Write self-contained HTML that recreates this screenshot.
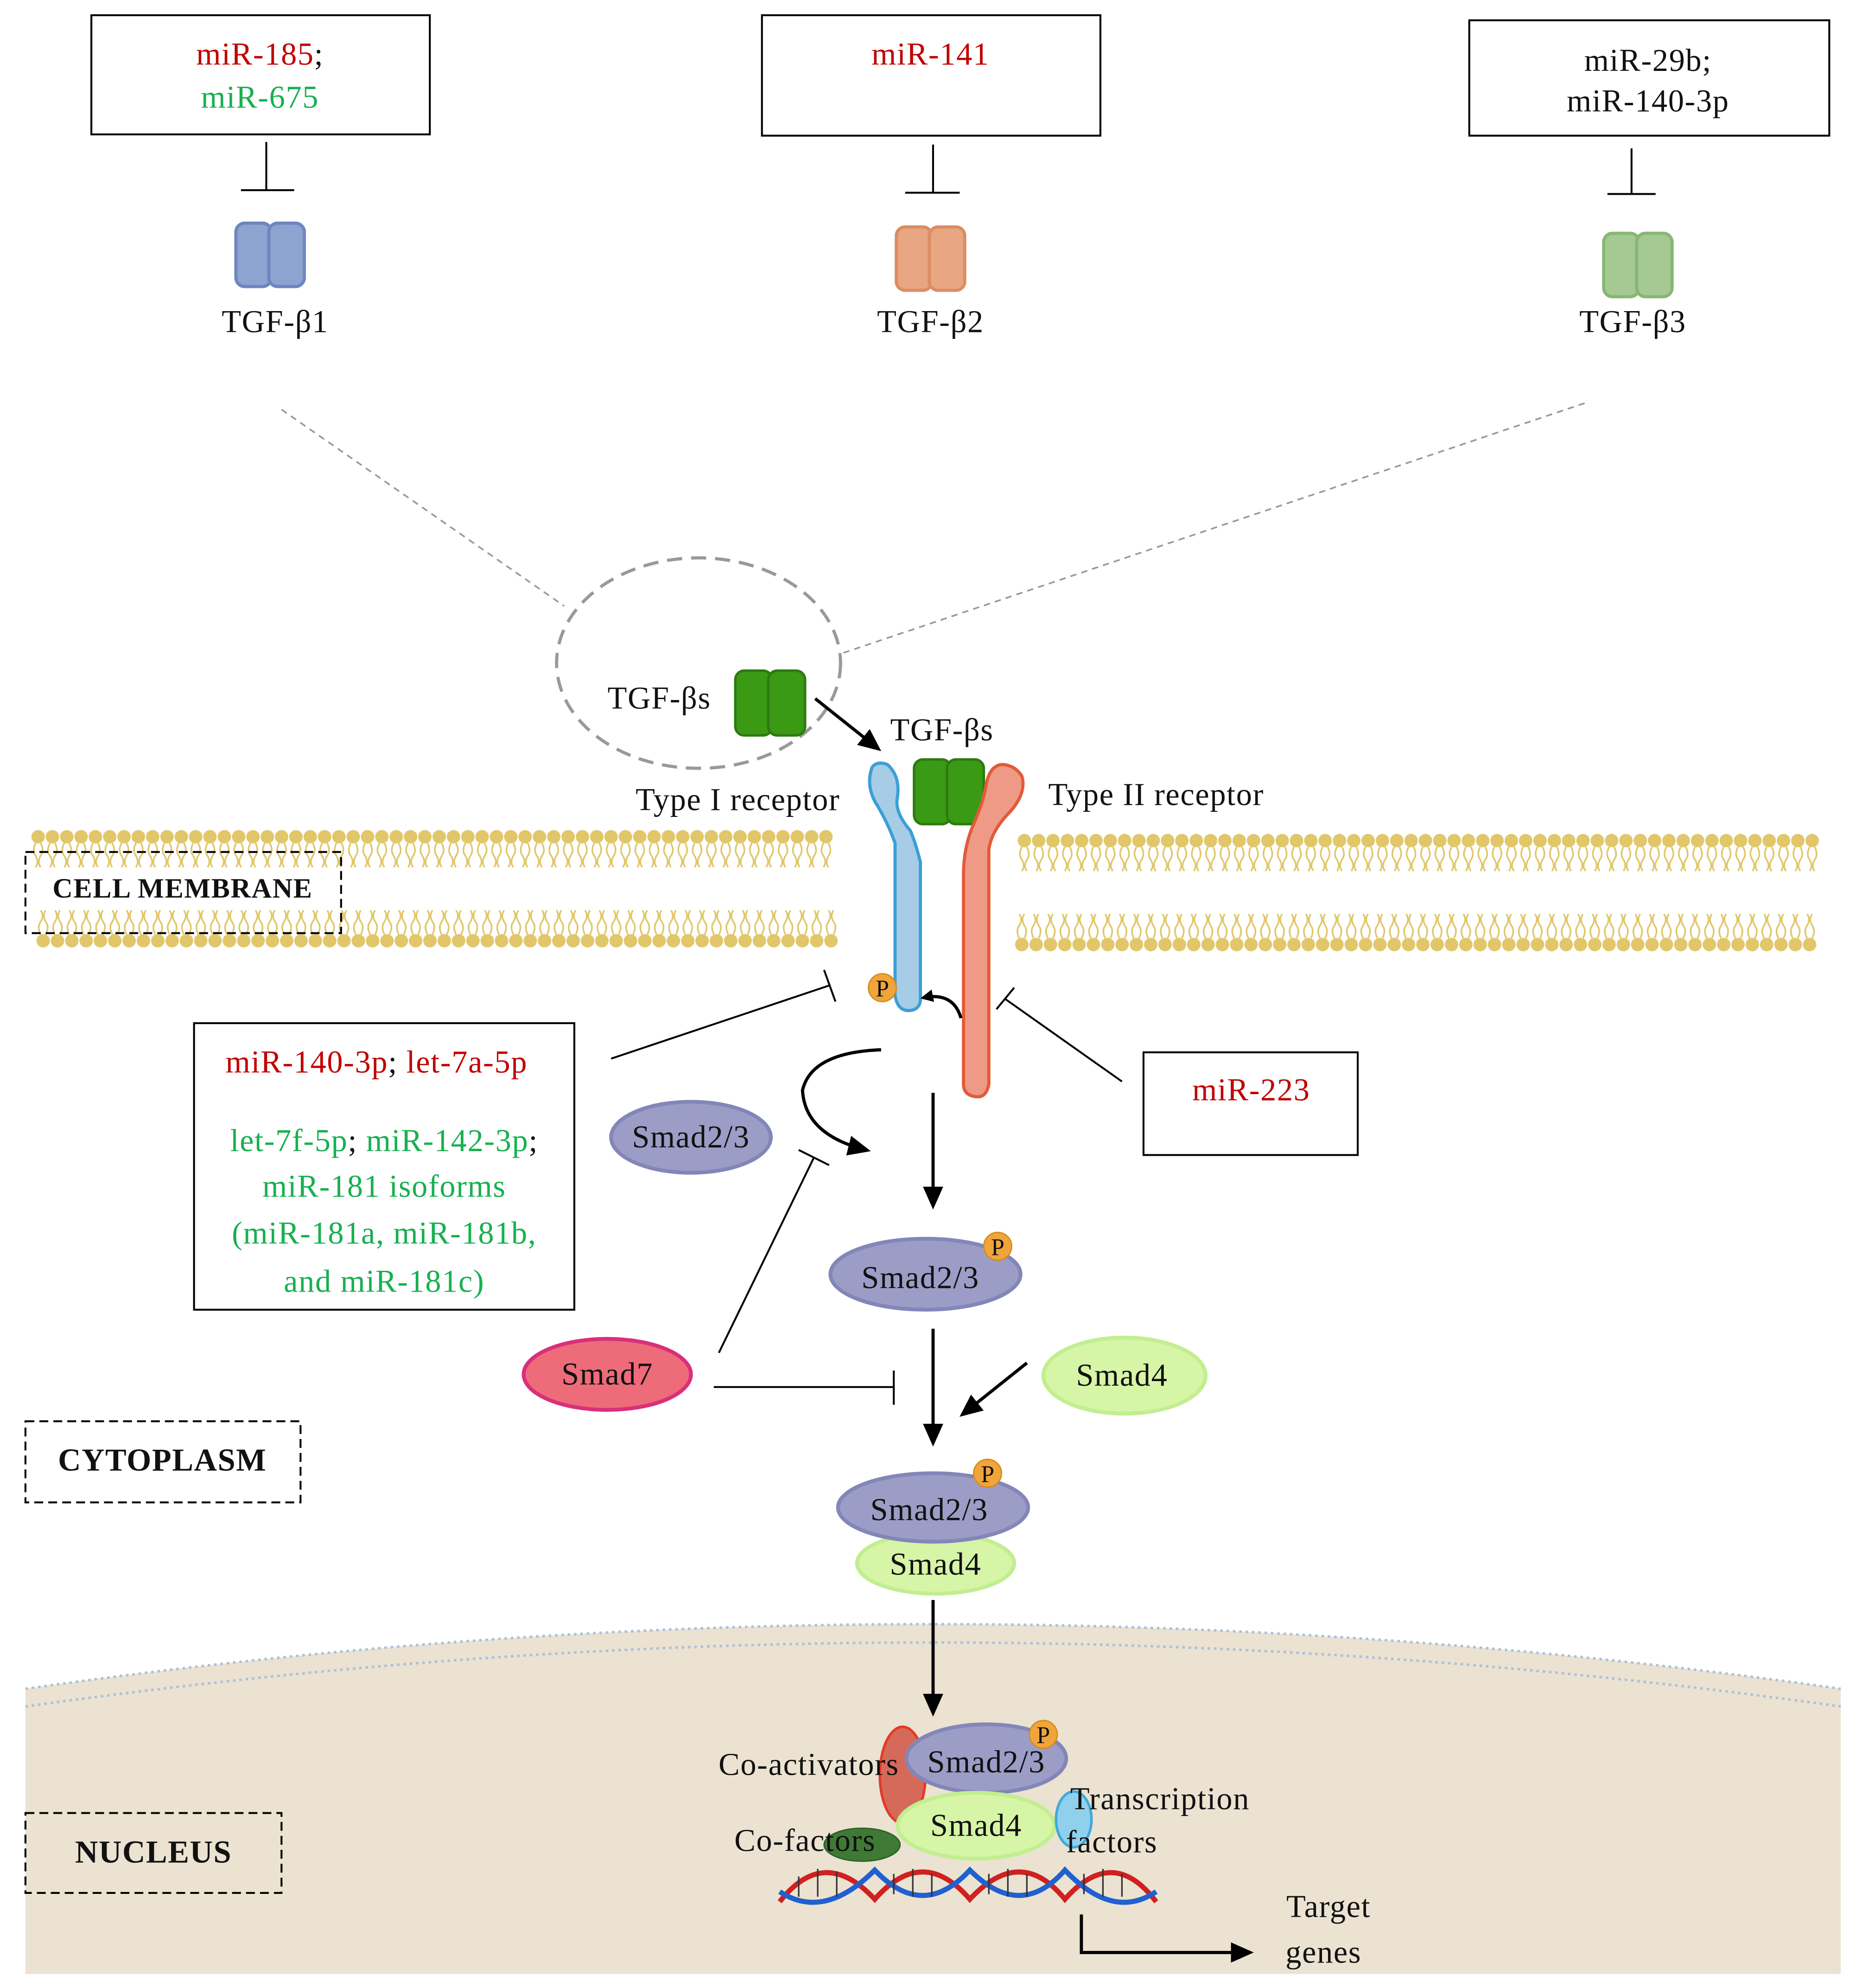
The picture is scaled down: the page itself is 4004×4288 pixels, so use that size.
<!DOCTYPE html>
<html><head><meta charset="utf-8"><style>
html,body{margin:0;padding:0;background:#fff;}
svg{display:block;}
text{font-family:"Liberation Serif",serif;font-size:25px;letter-spacing:0.6px;fill:#111;}
.r{fill:#c00000}.g{fill:#18b050}.b{font-weight:bold}
.p{font-size:19px;letter-spacing:0}
</style></head><body>
<svg width="4004" height="4288" viewBox="0 0 1464 1568" xmlns="http://www.w3.org/2000/svg">
<defs>
<marker id="ah" markerWidth="10" markerHeight="10" refX="8" refY="5" orient="auto" markerUnits="userSpaceOnUse" viewBox="0 0 10 10"><path d="M0,0 L10,5 L0,10 z" fill="#000"/></marker>
<marker id="ah2" markerWidth="18" markerHeight="18" refX="14" refY="9" orient="auto" markerUnits="userSpaceOnUse" viewBox="0 0 18 18"><path d="M0,1 L18,9 L0,17 z" fill="#000"/></marker>
</defs>
<!-- top boxes -->
<rect x="72" y="12" width="267" height="94" fill="#fff" stroke="#000" stroke-width="1.5"/>
<text x="205" y="51" text-anchor="middle"><tspan class="r">miR-185</tspan>;</text>
<text x="205" y="85" text-anchor="middle" class="g">miR-675</text>
<rect x="601" y="12" width="267" height="95" fill="#fff" stroke="#000" stroke-width="1.5"/>
<text x="734" y="51" text-anchor="middle" class="r">miR-141</text>
<rect x="1159" y="16" width="284" height="91" fill="#fff" stroke="#000" stroke-width="1.5"/>
<text x="1300" y="56" text-anchor="middle">miR-29b;</text>
<text x="1300" y="88" text-anchor="middle">miR-140-3p</text>
<g stroke="#000" stroke-width="1.5">
<line x1="210" y1="112" x2="210" y2="150"/><line x1="190" y1="150" x2="232" y2="150"/>
<line x1="736" y1="114" x2="736" y2="152"/><line x1="714" y1="152" x2="757" y2="152"/>
<line x1="1287" y1="117" x2="1287" y2="153"/><line x1="1268" y1="153" x2="1306" y2="153"/>
</g>
<g stroke-width="2.5">
<rect x="186" y="176" width="28" height="50" rx="7" fill="#8ea3cf" stroke="#6d86c0"/><rect x="212" y="176" width="28" height="50" rx="7" fill="#8ea3cf" stroke="#6d86c0"/>
<rect x="707" y="179" width="28" height="50" rx="7" fill="#e8a682" stroke="#db8d63"/><rect x="733" y="179" width="28" height="50" rx="7" fill="#e8a682" stroke="#db8d63"/>
<rect x="1265" y="184" width="28" height="50" rx="7" fill="#a6c994" stroke="#88b773"/><rect x="1291" y="184" width="28" height="50" rx="7" fill="#a6c994" stroke="#88b773"/>
</g>
<text x="217" y="262" text-anchor="middle">TGF-β1</text>
<text x="734" y="262" text-anchor="middle">TGF-β2</text>
<text x="1288" y="262" text-anchor="middle">TGF-β3</text>
<g stroke="#999" stroke-width="1.3" stroke-dasharray="5,4" fill="none">
<line x1="222" y1="323" x2="445" y2="478"/>
<line x1="1250" y1="318" x2="665" y2="515"/>
<ellipse cx="551" cy="523" rx="112" ry="83" stroke-width="2.5" stroke-dasharray="12,7"/>
</g>
<text x="520" y="559" text-anchor="middle">TGF-βs</text>
<g stroke="#2d7a10" stroke-width="2">
<rect x="580" y="529" width="29" height="51" rx="7" fill="#3a9a14"/><rect x="606" y="529" width="29" height="51" rx="7" fill="#3a9a14"/>
<rect x="721" y="599" width="29" height="51" rx="7" fill="#3a9a14"/><rect x="747" y="599" width="29" height="51" rx="7" fill="#3a9a14"/>
</g>
<line x1="643" y1="551" x2="692" y2="590" stroke="#000" stroke-width="2.5" marker-end="url(#ah2)"/>
<text x="743" y="584" text-anchor="middle">TGF-βs</text>
<text x="582" y="639" text-anchor="middle">Type I receptor</text>
<text x="912" y="635" text-anchor="middle">Type II receptor</text>
<g id="lip"></g>
<script>
(function(){var ns="http://www.w3.org/2000/svg",g=document.getElementById('lip');
function row(x0,x1,y,dir){for(var x=x0;x<=x1;x+=11.3){var c=document.createElementNS(ns,'circle');c.setAttribute('cx',x);c.setAttribute('cy',y);c.setAttribute('r',5.3);c.setAttribute('fill','#e1c76a');g.appendChild(c);
for(var k=-1;k<=1;k+=2){var p=document.createElementNS(ns,'path');p.setAttribute('d','M'+(x+k*2)+','+(y+dir*5)+' q'+(k*3)+','+(dir*6)+' 0,'+(dir*10)+' q'+(-k*3)+','+(dir*5)+' 0,'+(dir*9));p.setAttribute('stroke','#e1c76a');p.setAttribute('stroke-width','1.3');p.setAttribute('fill','none');g.appendChild(p);}}}
row(30,660,660,1);row(808,1438,663,1);row(34,664,742,-1);row(806,1438,745,-1);})();
</script>
<rect x="20" y="672" width="249" height="64" fill="none" stroke="#000" stroke-width="1.5" stroke-dasharray="7,4"/>
<text x="144" y="708" text-anchor="middle" class="b" style="font-size:22px">CELL MEMBRANE</text>
<path d="M688,605 Q683,618 690,632 Q700,648 706,665 L706,785 Q708,798 718,797 Q727,796 726,785 L726,680 Q722,664 718,655 Q705,640 708,628 Q710,612 700,603 Q692,600 688,605 Z" fill="#a6cce6" stroke="#3c9fd6" stroke-width="2.5"/>
<path d="M790,603 Q800,603 806,612 Q810,625 797,640 Q782,655 780,670 L780,855 Q778,866 770,865 Q760,864 760,855 L760,690 Q760,668 768,650 Q776,632 778,618 Q781,604 790,603 Z" fill="#ee9a86" stroke="#e35a38" stroke-width="2.5"/>
<circle cx="696" cy="779" r="11" fill="#f0a53a" stroke="#d48b1c"/>
<text x="696" y="786" text-anchor="middle" class="p">P</text>
<path d="M758,803 Q752,782 728,787" stroke="#000" stroke-width="2.5" fill="none" marker-end="url(#ah)"/>
<rect x="153" y="807" width="300" height="226" fill="#fff" stroke="#000" stroke-width="1.5"/>
<text x="297" y="846" text-anchor="middle"><tspan class="r">miR-140-3p</tspan>; <tspan class="r">let-7a-5p</tspan></text>
<text x="303" y="908" text-anchor="middle"><tspan class="g">let-7f-5p</tspan>; <tspan class="g">miR-142-3p</tspan>;</text>
<text x="303" y="944" text-anchor="middle" class="g">miR-181 isoforms</text>
<text x="303" y="981" text-anchor="middle" class="g">(miR-181a, miR-181b,</text>
<text x="303" y="1019" text-anchor="middle" class="g">and miR-181c)</text>
<g stroke="#000" stroke-width="1.5">
<line x1="482" y1="835" x2="655" y2="777"/><line x1="650" y1="765" x2="659" y2="790"/>
<line x1="885" y1="853" x2="793" y2="788"/><line x1="786" y1="796" x2="800" y2="779"/>
<line x1="567" y1="1067" x2="642" y2="913"/><line x1="630" y1="907" x2="654" y2="919"/>
<line x1="563" y1="1094" x2="705" y2="1094"/><line x1="705" y1="1081" x2="705" y2="1108"/>
</g>
<rect x="902" y="830" width="169" height="81" fill="#fff" stroke="#000" stroke-width="1.5"/>
<text x="987" y="868" text-anchor="middle" class="r">miR-223</text>
<path d="M695,828 Q640,830 633,860 Q635,895 683,907" stroke="#000" stroke-width="2.5" fill="none" marker-end="url(#ah2)"/>
<g stroke-width="3">
<ellipse cx="545" cy="897" rx="63" ry="28" fill="#9b9dc6" stroke="#8386b8"/>
<ellipse cx="730" cy="1005" rx="75" ry="28" fill="#9b9dc6" stroke="#8386b8"/>
<ellipse cx="479" cy="1084" rx="66" ry="28" fill="#ee6b7a" stroke="#d8307a"/>
<ellipse cx="887" cy="1085" rx="64" ry="30" fill="#d6f5a6" stroke="#c2ee90"/>
<ellipse cx="738" cy="1233" rx="62" ry="24" fill="#d6f5a6" stroke="#c2ee90"/>
<ellipse cx="736" cy="1189" rx="75" ry="27" fill="#9b9dc6" stroke="#8386b8"/>
</g>
<text x="545" y="905" text-anchor="middle">Smad2/3</text>
<text x="726" y="1016" text-anchor="middle">Smad2/3</text>
<text x="479" y="1092" text-anchor="middle">Smad7</text>
<text x="885" y="1093" text-anchor="middle">Smad4</text>
<text x="733" y="1199" text-anchor="middle">Smad2/3</text>
<text x="738" y="1242" text-anchor="middle">Smad4</text>
<circle cx="787" cy="983" r="11" fill="#f0a53a" stroke="#d48b1c"/><text x="787" y="990" text-anchor="middle" class="p">P</text>
<circle cx="779" cy="1162" r="11" fill="#f0a53a" stroke="#d48b1c"/><text x="779" y="1169" text-anchor="middle" class="p">P</text>
<g stroke="#000" stroke-width="2.5">
<line x1="736" y1="862" x2="736" y2="950" marker-end="url(#ah2)"/>
<line x1="736" y1="1048" x2="736" y2="1137" marker-end="url(#ah2)"/>
<line x1="810" y1="1075" x2="760" y2="1115" marker-end="url(#ah2)"/>
</g>
<rect x="20" y="1121" width="217" height="64" fill="none" stroke="#000" stroke-width="1.5" stroke-dasharray="7,4"/>
<text x="128" y="1160" text-anchor="middle" class="b">CYTOPLASM</text>
<path d="M20,1332 Q736,1230 1452,1332 L1452,1557 L20,1557 Z" fill="#ebe2d1"/>
<path d="M20,1332 Q736,1230 1452,1332" fill="none" stroke="#a9c1dc" stroke-width="2" stroke-dasharray="2,3"/>
<path d="M20,1346 Q736,1245 1452,1346" fill="none" stroke="#a9c1dc" stroke-width="2" stroke-dasharray="2,3"/>
<line x1="736" y1="1262" x2="736" y2="1350" stroke="#000" stroke-width="2.5" marker-end="url(#ah2)"/>
<rect x="20" y="1430" width="202" height="63" fill="none" stroke="#000" stroke-width="1.5" stroke-dasharray="7,4"/>
<text x="121" y="1469" text-anchor="middle" class="b">NUCLEUS</text>
<ellipse cx="712" cy="1400" rx="18" ry="38" fill="#d56a5a" stroke="#e23a2a" stroke-width="2"/>
<ellipse cx="778" cy="1387" rx="63" ry="27" fill="#9b9dc6" stroke="#8386b8" stroke-width="3"/>
<ellipse cx="770" cy="1440" rx="62" ry="26" fill="#d6f5a6" stroke="#c2ee90" stroke-width="3"/>
<ellipse cx="847" cy="1435" rx="14" ry="22" fill="#8fd0ec" stroke="#3ea9dc" stroke-width="2"/>
<g fill="none" stroke-width="4">
<path d="M615,1500 Q650,1455 690,1498 Q728,1455 765,1498 Q805,1455 840,1498 Q878,1455 912,1500" stroke="#d02020"/>
<path d="M615,1492 Q650,1515 690,1475 Q728,1515 765,1475 Q805,1515 840,1475 Q878,1515 912,1492" stroke="#2060d0"/>
</g>
<g stroke="#333" stroke-width="1.2">
<path d="M630,1480v16 M645,1474v22 M660,1476v20 M705,1478v16 M720,1474v22 M735,1478v18 M780,1478v16 M795,1474v22 M810,1478v18 M855,1478v16 M870,1474v22 M885,1478v18"/>
</g>
<ellipse cx="680" cy="1455" rx="30" ry="13" fill="#3f7a35" stroke="#2e5e27"/>
<text x="778" y="1398" text-anchor="middle">Smad2/3</text>
<circle cx="823" cy="1368" r="11" fill="#f0a53a" stroke="#d48b1c"/><text x="823" y="1375" text-anchor="middle" class="p">P</text>
<text x="770" y="1448" text-anchor="middle">Smad4</text>
<text x="638" y="1400" text-anchor="middle">Co-activators</text>
<text x="635" y="1460" text-anchor="middle">Co-factors</text>
<text x="915" y="1427" text-anchor="middle">Transcription</text>
<text x="877" y="1461" text-anchor="middle">factors</text>
<path d="M853,1510 V1540 H985" fill="none" stroke="#000" stroke-width="2.5" marker-end="url(#ah2)"/>
<text x="1048" y="1512" text-anchor="middle">Target</text>
<text x="1044" y="1548" text-anchor="middle">genes</text>
</svg>
</body></html>
